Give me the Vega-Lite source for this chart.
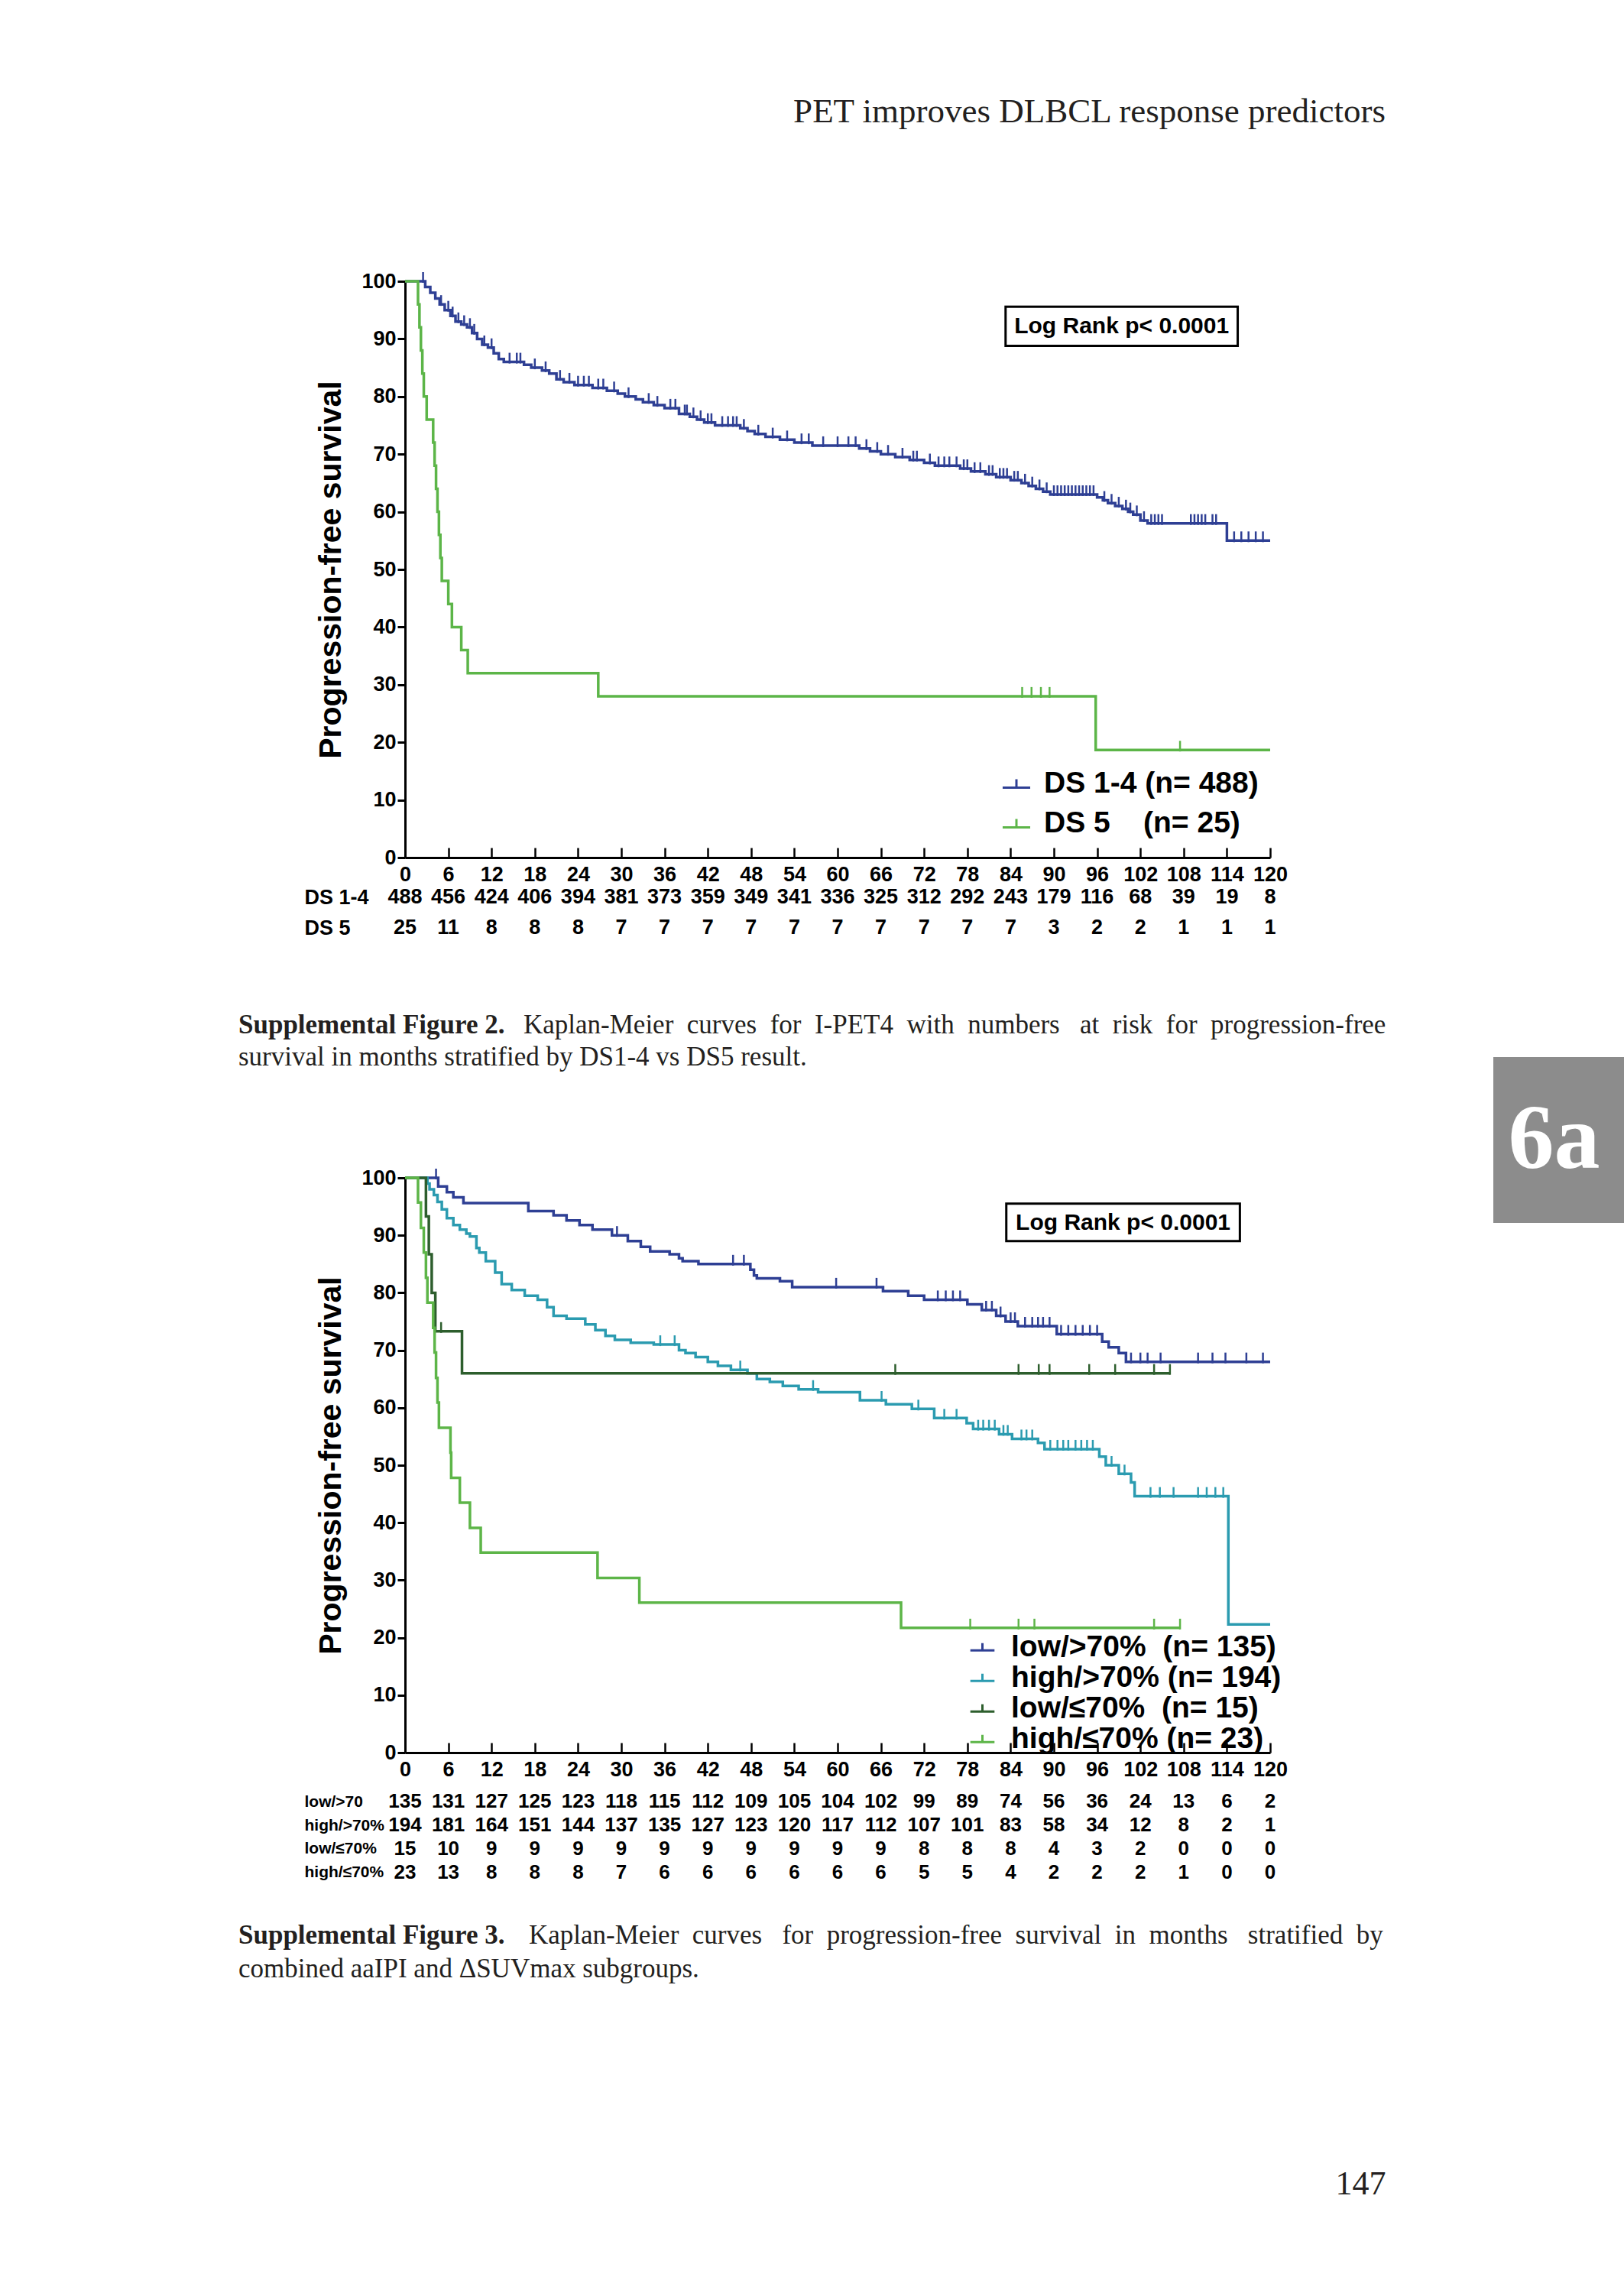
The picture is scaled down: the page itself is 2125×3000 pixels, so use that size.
{
 "$schema": "https://vega.github.io/schema/vega-lite/v6.json",
 "background": "white",
 "padding": {"left": 312, "top": 124, "right": 0, "bottom": 0},
 "config": {
  "view": {"stroke": null},
  "font": "Liberation Sans",
  "axis": {"grid": false, "labelFont": "Liberation Sans", "labelFontWeight": "bold", "labelColor": "black", "titleFont": "Liberation Sans", "titleColor": "black", "domainColor": "black", "tickColor": "black"},
  "legend": {"labelFont": "Liberation Sans", "labelFontWeight": "bold", "labelColor": "black", "labelLimit": 800, "padding": 0},
  "title": {"font": "Liberation Serif", "color": "#231f20", "subtitleFont": "Liberation Serif", "subtitleColor": "#231f20"}
 },
 "datasets": {
  "km1": [
   {"g":"DS 1-4","t":0,"s":100,"c":0},{"g":"DS 1-4","t":2.8,"s":99,"c":0},{"g":"DS 1-4","t":3.5,"s":98,"c":0},{"g":"DS 1-4","t":4.2,"s":97,"c":0},{"g":"DS 1-4","t":4.8,"s":96,"c":0},{"g":"DS 1-4","t":5.5,"s":95,"c":0},{"g":"DS 1-4","t":6.3,"s":94,"c":0},{"g":"DS 1-4","t":7,"s":93,"c":0},{"g":"DS 1-4","t":7.8,"s":92.5,"c":0},{"g":"DS 1-4","t":8.6,"s":92,"c":0},{"g":"DS 1-4","t":9.3,"s":91,"c":0},{"g":"DS 1-4","t":10,"s":90,"c":0},{"g":"DS 1-4","t":10.7,"s":89,"c":0},{"g":"DS 1-4","t":11.5,"s":88.5,"c":0},{"g":"DS 1-4","t":12.3,"s":87.5,"c":0},{"g":"DS 1-4","t":13,"s":86.5,"c":0},{"g":"DS 1-4","t":13.7,"s":86,"c":0},{"g":"DS 1-4","t":16.5,"s":85.5,"c":0},{"g":"DS 1-4","t":17.5,"s":85,"c":0},{"g":"DS 1-4","t":19,"s":84.5,"c":0},{"g":"DS 1-4","t":20,"s":84,"c":0},{"g":"DS 1-4","t":21,"s":83,"c":0},{"g":"DS 1-4","t":22,"s":82.5,"c":0},{"g":"DS 1-4","t":23.5,"s":82,"c":0},{"g":"DS 1-4","t":26,"s":81.5,"c":0},{"g":"DS 1-4","t":28,"s":81,"c":0},{"g":"DS 1-4","t":29.5,"s":80.5,"c":0},{"g":"DS 1-4","t":30.5,"s":80,"c":0},{"g":"DS 1-4","t":32,"s":79.5,"c":0},{"g":"DS 1-4","t":33,"s":79,"c":0},{"g":"DS 1-4","t":34.5,"s":78.5,"c":0},{"g":"DS 1-4","t":36,"s":78,"c":0},{"g":"DS 1-4","t":38,"s":77,"c":0},{"g":"DS 1-4","t":39.5,"s":76.5,"c":0},{"g":"DS 1-4","t":40.5,"s":76,"c":0},{"g":"DS 1-4","t":41.5,"s":75.5,"c":0},{"g":"DS 1-4","t":43,"s":75,"c":0},{"g":"DS 1-4","t":46.5,"s":74.5,"c":0},{"g":"DS 1-4","t":47.5,"s":74,"c":0},{"g":"DS 1-4","t":48.5,"s":73.5,"c":0},{"g":"DS 1-4","t":50,"s":73,"c":0},{"g":"DS 1-4","t":52,"s":72.5,"c":0},{"g":"DS 1-4","t":54,"s":72,"c":0},{"g":"DS 1-4","t":56.5,"s":71.5,"c":0},{"g":"DS 1-4","t":63,"s":71,"c":0},{"g":"DS 1-4","t":64.5,"s":70.5,"c":0},{"g":"DS 1-4","t":66,"s":70,"c":0},{"g":"DS 1-4","t":68,"s":69.5,"c":0},{"g":"DS 1-4","t":70,"s":69,"c":0},{"g":"DS 1-4","t":72,"s":68.5,"c":0},{"g":"DS 1-4","t":73.5,"s":68,"c":0},{"g":"DS 1-4","t":77,"s":67.5,"c":0},{"g":"DS 1-4","t":78.5,"s":67,"c":0},{"g":"DS 1-4","t":80.5,"s":66.5,"c":0},{"g":"DS 1-4","t":82,"s":66,"c":0},{"g":"DS 1-4","t":84,"s":65.5,"c":0},{"g":"DS 1-4","t":85.5,"s":65,"c":0},{"g":"DS 1-4","t":86.5,"s":64.5,"c":0},{"g":"DS 1-4","t":87.5,"s":64,"c":0},{"g":"DS 1-4","t":88.5,"s":63.5,"c":0},{"g":"DS 1-4","t":89.5,"s":63,"c":0},{"g":"DS 1-4","t":96,"s":62.5,"c":0},{"g":"DS 1-4","t":96.8,"s":62,"c":0},{"g":"DS 1-4","t":97.5,"s":61.5,"c":0},{"g":"DS 1-4","t":98.5,"s":61,"c":0},{"g":"DS 1-4","t":99.5,"s":60.5,"c":0},{"g":"DS 1-4","t":100.3,"s":60,"c":0},{"g":"DS 1-4","t":101,"s":59.5,"c":0},{"g":"DS 1-4","t":102,"s":58.5,"c":0},{"g":"DS 1-4","t":103,"s":58,"c":0},{"g":"DS 1-4","t":114,"s":55,"c":0},{"g":"DS 1-4","t":120,"s":55,"c":0},
   {"g":"DS 1-4","t":2.5,"s":100,"c":1},{"g":"DS 1-4","t":5,"s":96,"c":1},{"g":"DS 1-4","t":6,"s":95,"c":1},{"g":"DS 1-4","t":6.6,"s":94,"c":1},{"g":"DS 1-4","t":7.4,"s":93,"c":1},{"g":"DS 1-4","t":8.2,"s":92.5,"c":1},{"g":"DS 1-4","t":9,"s":92,"c":1},{"g":"DS 1-4","t":9.6,"s":91,"c":1},{"g":"DS 1-4","t":11,"s":89,"c":1},{"g":"DS 1-4","t":12,"s":88.5,"c":1},{"g":"DS 1-4","t":14.5,"s":86,"c":1},{"g":"DS 1-4","t":15.5,"s":86,"c":1},{"g":"DS 1-4","t":16,"s":86,"c":1},{"g":"DS 1-4","t":18,"s":85,"c":1},{"g":"DS 1-4","t":19.5,"s":84.5,"c":1},{"g":"DS 1-4","t":21.5,"s":83,"c":1},{"g":"DS 1-4","t":22.8,"s":82.5,"c":1},{"g":"DS 1-4","t":24,"s":82,"c":1},{"g":"DS 1-4","t":24.8,"s":82,"c":1},{"g":"DS 1-4","t":25.5,"s":82,"c":1},{"g":"DS 1-4","t":26.8,"s":81.5,"c":1},{"g":"DS 1-4","t":27.5,"s":81.5,"c":1},{"g":"DS 1-4","t":29,"s":81,"c":1},{"g":"DS 1-4","t":31,"s":80,"c":1},{"g":"DS 1-4","t":33.8,"s":79,"c":1},{"g":"DS 1-4","t":35,"s":78.5,"c":1},{"g":"DS 1-4","t":36.8,"s":78,"c":1},{"g":"DS 1-4","t":37.5,"s":78,"c":1},{"g":"DS 1-4","t":38.8,"s":77,"c":1},{"g":"DS 1-4","t":39.1,"s":77,"c":1},{"g":"DS 1-4","t":40,"s":76.5,"c":1},{"g":"DS 1-4","t":41,"s":76,"c":1},{"g":"DS 1-4","t":42,"s":75.5,"c":1},{"g":"DS 1-4","t":42.5,"s":75.5,"c":1},{"g":"DS 1-4","t":44,"s":75,"c":1},{"g":"DS 1-4","t":44.8,"s":75,"c":1},{"g":"DS 1-4","t":45.5,"s":75,"c":1},{"g":"DS 1-4","t":46,"s":75,"c":1},{"g":"DS 1-4","t":47,"s":74.5,"c":1},{"g":"DS 1-4","t":49,"s":73.5,"c":1},{"g":"DS 1-4","t":51,"s":73,"c":1},{"g":"DS 1-4","t":53,"s":72.5,"c":1},{"g":"DS 1-4","t":55,"s":72,"c":1},{"g":"DS 1-4","t":56,"s":72,"c":1},{"g":"DS 1-4","t":58,"s":71.5,"c":1},{"g":"DS 1-4","t":60,"s":71.5,"c":1},{"g":"DS 1-4","t":61.5,"s":71.5,"c":1},{"g":"DS 1-4","t":62.5,"s":71.5,"c":1},{"g":"DS 1-4","t":64,"s":71,"c":1},{"g":"DS 1-4","t":65.5,"s":70.5,"c":1},{"g":"DS 1-4","t":67,"s":70,"c":1},{"g":"DS 1-4","t":69,"s":69.5,"c":1},{"g":"DS 1-4","t":70.5,"s":69,"c":1},{"g":"DS 1-4","t":71,"s":69,"c":1},{"g":"DS 1-4","t":72.8,"s":68.5,"c":1},{"g":"DS 1-4","t":74,"s":68,"c":1},{"g":"DS 1-4","t":74.8,"s":68,"c":1},{"g":"DS 1-4","t":75.5,"s":68,"c":1},{"g":"DS 1-4","t":76.5,"s":68,"c":1},{"g":"DS 1-4","t":77.5,"s":67.5,"c":1},{"g":"DS 1-4","t":78,"s":67.5,"c":1},{"g":"DS 1-4","t":79,"s":67,"c":1},{"g":"DS 1-4","t":79.8,"s":67,"c":1},{"g":"DS 1-4","t":81,"s":66.5,"c":1},{"g":"DS 1-4","t":81.5,"s":66.5,"c":1},{"g":"DS 1-4","t":82.5,"s":66,"c":1},{"g":"DS 1-4","t":83,"s":66,"c":1},{"g":"DS 1-4","t":83.5,"s":66,"c":1},{"g":"DS 1-4","t":84.5,"s":65.5,"c":1},{"g":"DS 1-4","t":85,"s":65.5,"c":1},{"g":"DS 1-4","t":86,"s":65,"c":1},{"g":"DS 1-4","t":87,"s":64.5,"c":1},{"g":"DS 1-4","t":88,"s":64,"c":1},{"g":"DS 1-4","t":89,"s":63.5,"c":1},{"g":"DS 1-4","t":90,"s":63,"c":1},{"g":"DS 1-4","t":90.5,"s":63,"c":1},{"g":"DS 1-4","t":91,"s":63,"c":1},{"g":"DS 1-4","t":91.5,"s":63,"c":1},{"g":"DS 1-4","t":92,"s":63,"c":1},{"g":"DS 1-4","t":92.5,"s":63,"c":1},{"g":"DS 1-4","t":93,"s":63,"c":1},{"g":"DS 1-4","t":93.5,"s":63,"c":1},{"g":"DS 1-4","t":94,"s":63,"c":1},{"g":"DS 1-4","t":94.5,"s":63,"c":1},{"g":"DS 1-4","t":95,"s":63,"c":1},{"g":"DS 1-4","t":95.5,"s":63,"c":1},{"g":"DS 1-4","t":97,"s":62,"c":1},{"g":"DS 1-4","t":98,"s":61.5,"c":1},{"g":"DS 1-4","t":99,"s":61,"c":1},{"g":"DS 1-4","t":100,"s":60.5,"c":1},{"g":"DS 1-4","t":100.6,"s":60,"c":1},{"g":"DS 1-4","t":101.5,"s":59.5,"c":1},{"g":"DS 1-4","t":102.5,"s":58.5,"c":1},{"g":"DS 1-4","t":103.5,"s":58,"c":1},{"g":"DS 1-4","t":104,"s":58,"c":1},{"g":"DS 1-4","t":104.5,"s":58,"c":1},{"g":"DS 1-4","t":105,"s":58,"c":1},{"g":"DS 1-4","t":109,"s":58,"c":1},{"g":"DS 1-4","t":109.5,"s":58,"c":1},{"g":"DS 1-4","t":110,"s":58,"c":1},{"g":"DS 1-4","t":110.5,"s":58,"c":1},{"g":"DS 1-4","t":111,"s":58,"c":1},{"g":"DS 1-4","t":112,"s":58,"c":1},{"g":"DS 1-4","t":112.5,"s":58,"c":1},{"g":"DS 1-4","t":115,"s":55,"c":1},{"g":"DS 1-4","t":116,"s":55,"c":1},{"g":"DS 1-4","t":117,"s":55,"c":1},{"g":"DS 1-4","t":118,"s":55,"c":1},{"g":"DS 1-4","t":119,"s":55,"c":1},
   {"g":"DS 5","t":0,"s":100,"c":0},{"g":"DS 5","t":1.8,"s":96,"c":0},{"g":"DS 5","t":2,"s":92,"c":0},{"g":"DS 5","t":2.2,"s":88,"c":0},{"g":"DS 5","t":2.4,"s":84,"c":0},{"g":"DS 5","t":2.6,"s":80,"c":0},{"g":"DS 5","t":3,"s":76,"c":0},{"g":"DS 5","t":3.9,"s":72,"c":0},{"g":"DS 5","t":4.1,"s":68,"c":0},{"g":"DS 5","t":4.3,"s":64,"c":0},{"g":"DS 5","t":4.5,"s":60,"c":0},{"g":"DS 5","t":4.7,"s":56,"c":0},{"g":"DS 5","t":4.9,"s":52,"c":0},{"g":"DS 5","t":5.1,"s":48,"c":0},{"g":"DS 5","t":6,"s":44,"c":0},{"g":"DS 5","t":6.5,"s":40,"c":0},{"g":"DS 5","t":7.8,"s":36,"c":0},{"g":"DS 5","t":8.7,"s":32,"c":0},{"g":"DS 5","t":26.8,"s":28,"c":0},{"g":"DS 5","t":95.8,"s":18.67,"c":0},{"g":"DS 5","t":120,"s":18.67,"c":0},
   {"g":"DS 5","t":85.6,"s":28,"c":1},{"g":"DS 5","t":86.9,"s":28,"c":1},{"g":"DS 5","t":88.2,"s":28,"c":1},{"g":"DS 5","t":89.4,"s":28,"c":1},{"g":"DS 5","t":107.5,"s":18.67,"c":1}
  ],
  "km2": [
   {"g":"low/>70%","t":0,"s":100,"c":0},{"g":"low/>70%","t":4.6,"s":98.5,"c":0},{"g":"low/>70%","t":5.8,"s":97.5,"c":0},{"g":"low/>70%","t":6.7,"s":96.6,"c":0},{"g":"low/>70%","t":8.1,"s":95.6,"c":0},{"g":"low/>70%","t":17.1,"s":94.2,"c":0},{"g":"low/>70%","t":20.6,"s":93.5,"c":0},{"g":"low/>70%","t":22.4,"s":92.6,"c":0},{"g":"low/>70%","t":24.2,"s":91.8,"c":0},{"g":"low/>70%","t":26,"s":91,"c":0},{"g":"low/>70%","t":28.7,"s":90,"c":0},{"g":"low/>70%","t":30.9,"s":89,"c":0},{"g":"low/>70%","t":32.7,"s":88,"c":0},{"g":"low/>70%","t":34,"s":87.2,"c":0},{"g":"low/>70%","t":36.7,"s":86.7,"c":0},{"g":"low/>70%","t":38,"s":86,"c":0},{"g":"low/>70%","t":38.5,"s":85.5,"c":0},{"g":"low/>70%","t":40.7,"s":85,"c":0},{"g":"low/>70%","t":47.9,"s":84,"c":0},{"g":"low/>70%","t":48.4,"s":83,"c":0},{"g":"low/>70%","t":48.8,"s":82.5,"c":0},{"g":"low/>70%","t":52,"s":82,"c":0},{"g":"low/>70%","t":53.7,"s":81,"c":0},{"g":"low/>70%","t":66.3,"s":80.3,"c":0},{"g":"low/>70%","t":69.8,"s":79.5,"c":0},{"g":"low/>70%","t":72,"s":78.8,"c":0},{"g":"low/>70%","t":78,"s":78,"c":0},{"g":"low/>70%","t":80,"s":77,"c":0},{"g":"low/>70%","t":82,"s":76,"c":0},{"g":"low/>70%","t":83.3,"s":75,"c":0},{"g":"low/>70%","t":85,"s":74.2,"c":0},{"g":"low/>70%","t":90.4,"s":72.8,"c":0},{"g":"low/>70%","t":96.7,"s":71.5,"c":0},{"g":"low/>70%","t":97.6,"s":70.5,"c":0},{"g":"low/>70%","t":99,"s":69.5,"c":0},{"g":"low/>70%","t":100,"s":68,"c":0},{"g":"low/>70%","t":120,"s":68,"c":0},
   {"g":"low/>70%","t":4.3,"s":100,"c":1},{"g":"low/>70%","t":29.4,"s":90,"c":1},{"g":"low/>70%","t":45.5,"s":85,"c":1},{"g":"low/>70%","t":47,"s":85,"c":1},{"g":"low/>70%","t":59.8,"s":81,"c":1},{"g":"low/>70%","t":65.4,"s":81,"c":1},{"g":"low/>70%","t":73.9,"s":78.8,"c":1},{"g":"low/>70%","t":75,"s":78.8,"c":1},{"g":"low/>70%","t":76,"s":78.8,"c":1},{"g":"low/>70%","t":77,"s":78.8,"c":1},{"g":"low/>70%","t":80.6,"s":77,"c":1},{"g":"low/>70%","t":81.4,"s":77,"c":1},{"g":"low/>70%","t":82.6,"s":76,"c":1},{"g":"low/>70%","t":84,"s":75,"c":1},{"g":"low/>70%","t":84.6,"s":75,"c":1},{"g":"low/>70%","t":86,"s":74.2,"c":1},{"g":"low/>70%","t":87,"s":74.2,"c":1},{"g":"low/>70%","t":87.8,"s":74.2,"c":1},{"g":"low/>70%","t":88.5,"s":74.2,"c":1},{"g":"low/>70%","t":89.4,"s":74.2,"c":1},{"g":"low/>70%","t":91,"s":72.8,"c":1},{"g":"low/>70%","t":92,"s":72.8,"c":1},{"g":"low/>70%","t":93,"s":72.8,"c":1},{"g":"low/>70%","t":94,"s":72.8,"c":1},{"g":"low/>70%","t":95,"s":72.8,"c":1},{"g":"low/>70%","t":96,"s":72.8,"c":1},{"g":"low/>70%","t":100.7,"s":68,"c":1},{"g":"low/>70%","t":102,"s":68,"c":1},{"g":"low/>70%","t":103,"s":68,"c":1},{"g":"low/>70%","t":104.8,"s":68,"c":1},{"g":"low/>70%","t":110,"s":68,"c":1},{"g":"low/>70%","t":112,"s":68,"c":1},{"g":"low/>70%","t":113.8,"s":68,"c":1},{"g":"low/>70%","t":116.7,"s":68,"c":1},{"g":"low/>70%","t":119,"s":68,"c":1},
   {"g":"high/>70%","t":0,"s":100,"c":0},{"g":"high/>70%","t":3.1,"s":99,"c":0},{"g":"high/>70%","t":3.4,"s":98,"c":0},{"g":"high/>70%","t":4,"s":97,"c":0},{"g":"high/>70%","t":4.5,"s":95.8,"c":0},{"g":"high/>70%","t":5.1,"s":94.5,"c":0},{"g":"high/>70%","t":5.8,"s":93,"c":0},{"g":"high/>70%","t":6.7,"s":91.8,"c":0},{"g":"high/>70%","t":7.6,"s":91,"c":0},{"g":"high/>70%","t":8.5,"s":90.3,"c":0},{"g":"high/>70%","t":9,"s":89.8,"c":0},{"g":"high/>70%","t":9.9,"s":87.8,"c":0},{"g":"high/>70%","t":10.3,"s":87,"c":0},{"g":"high/>70%","t":11.2,"s":85.5,"c":0},{"g":"high/>70%","t":12.5,"s":83.5,"c":0},{"g":"high/>70%","t":13.4,"s":81.5,"c":0},{"g":"high/>70%","t":14.8,"s":80.5,"c":0},{"g":"high/>70%","t":16.6,"s":79.5,"c":0},{"g":"high/>70%","t":18.4,"s":78.8,"c":0},{"g":"high/>70%","t":19.7,"s":77.5,"c":0},{"g":"high/>70%","t":20.6,"s":76,"c":0},{"g":"high/>70%","t":22.4,"s":75.5,"c":0},{"g":"high/>70%","t":25,"s":74.5,"c":0},{"g":"high/>70%","t":26.4,"s":73.5,"c":0},{"g":"high/>70%","t":27.8,"s":72.5,"c":0},{"g":"high/>70%","t":29.1,"s":71.8,"c":0},{"g":"high/>70%","t":31.3,"s":71.3,"c":0},{"g":"high/>70%","t":34.5,"s":71,"c":0},{"g":"high/>70%","t":38,"s":70,"c":0},{"g":"high/>70%","t":38.9,"s":69.5,"c":0},{"g":"high/>70%","t":40.3,"s":68.8,"c":0},{"g":"high/>70%","t":42,"s":68,"c":0},{"g":"high/>70%","t":43.4,"s":67.3,"c":0},{"g":"high/>70%","t":45.2,"s":66.6,"c":0},{"g":"high/>70%","t":47.5,"s":66,"c":0},{"g":"high/>70%","t":48.8,"s":65,"c":0},{"g":"high/>70%","t":50.6,"s":64.5,"c":0},{"g":"high/>70%","t":52.4,"s":63.8,"c":0},{"g":"high/>70%","t":54.6,"s":63.2,"c":0},{"g":"high/>70%","t":57.3,"s":62.7,"c":0},{"g":"high/>70%","t":63.1,"s":61.3,"c":0},{"g":"high/>70%","t":66.7,"s":60.6,"c":0},{"g":"high/>70%","t":70.3,"s":59.8,"c":0},{"g":"high/>70%","t":73.4,"s":58.2,"c":0},{"g":"high/>70%","t":77.9,"s":57.3,"c":0},{"g":"high/>70%","t":78.8,"s":56.3,"c":0},{"g":"high/>70%","t":82.4,"s":55.4,"c":0},{"g":"high/>70%","t":84.2,"s":54.6,"c":0},{"g":"high/>70%","t":87.8,"s":53.9,"c":0},{"g":"high/>70%","t":88.7,"s":52.8,"c":0},{"g":"high/>70%","t":96.3,"s":51.5,"c":0},{"g":"high/>70%","t":97.2,"s":50,"c":0},{"g":"high/>70%","t":99,"s":48.5,"c":0},{"g":"high/>70%","t":100.7,"s":47,"c":0},{"g":"high/>70%","t":101.2,"s":44.6,"c":0},{"g":"high/>70%","t":114.2,"s":22.3,"c":0},{"g":"high/>70%","t":120,"s":22.3,"c":0},
   {"g":"high/>70%","t":35.4,"s":71,"c":1},{"g":"high/>70%","t":37.4,"s":71,"c":1},{"g":"high/>70%","t":46.5,"s":66.6,"c":1},{"g":"high/>70%","t":56.6,"s":63.2,"c":1},{"g":"high/>70%","t":66.1,"s":61.3,"c":1},{"g":"high/>70%","t":71.2,"s":59.8,"c":1},{"g":"high/>70%","t":74.8,"s":58.2,"c":1},{"g":"high/>70%","t":76.5,"s":58.2,"c":1},{"g":"high/>70%","t":79.5,"s":56.3,"c":1},{"g":"high/>70%","t":80.2,"s":56.3,"c":1},{"g":"high/>70%","t":81,"s":56.3,"c":1},{"g":"high/>70%","t":81.8,"s":56.3,"c":1},{"g":"high/>70%","t":83,"s":55.4,"c":1},{"g":"high/>70%","t":83.6,"s":55.4,"c":1},{"g":"high/>70%","t":85.5,"s":54.6,"c":1},{"g":"high/>70%","t":86.2,"s":54.6,"c":1},{"g":"high/>70%","t":87,"s":54.6,"c":1},{"g":"high/>70%","t":89.5,"s":52.8,"c":1},{"g":"high/>70%","t":90.5,"s":52.8,"c":1},{"g":"high/>70%","t":91.3,"s":52.8,"c":1},{"g":"high/>70%","t":92,"s":52.8,"c":1},{"g":"high/>70%","t":93,"s":52.8,"c":1},{"g":"high/>70%","t":93.8,"s":52.8,"c":1},{"g":"high/>70%","t":94.6,"s":52.8,"c":1},{"g":"high/>70%","t":95.4,"s":52.8,"c":1},{"g":"high/>70%","t":98,"s":50,"c":1},{"g":"high/>70%","t":99.8,"s":48.5,"c":1},{"g":"high/>70%","t":103.4,"s":44.6,"c":1},{"g":"high/>70%","t":104.7,"s":44.6,"c":1},{"g":"high/>70%","t":106.6,"s":44.6,"c":1},{"g":"high/>70%","t":110,"s":44.6,"c":1},{"g":"high/>70%","t":111.2,"s":44.6,"c":1},{"g":"high/>70%","t":112.4,"s":44.6,"c":1},{"g":"high/>70%","t":113.5,"s":44.6,"c":1},
   {"g":"low/≤70%","t":0,"s":100,"c":0},{"g":"low/≤70%","t":2.9,"s":93.3,"c":0},{"g":"low/≤70%","t":3.3,"s":86.7,"c":0},{"g":"low/≤70%","t":3.7,"s":80,"c":0},{"g":"low/≤70%","t":4.2,"s":73.3,"c":0},{"g":"low/≤70%","t":7.9,"s":66,"c":0},
   {"g":"low/≤70%","t":5,"s":73.3,"c":1},{"g":"low/≤70%","t":68,"s":66,"c":1},{"g":"low/≤70%","t":85.1,"s":66,"c":1},{"g":"low/≤70%","t":87.9,"s":66,"c":1},{"g":"low/≤70%","t":89.4,"s":66,"c":1},{"g":"low/≤70%","t":94.9,"s":66,"c":1},{"g":"low/≤70%","t":98.5,"s":66,"c":1},{"g":"low/≤70%","t":103.9,"s":66,"c":1},{"g":"low/≤70%","t":106.1,"s":66,"c":1},
   {"g":"high/≤70%","t":0,"s":100,"c":0},{"g":"high/≤70%","t":1.8,"s":95.7,"c":0},{"g":"high/≤70%","t":2.2,"s":91.3,"c":0},{"g":"high/≤70%","t":2.6,"s":87,"c":0},{"g":"high/≤70%","t":2.9,"s":82.6,"c":0},{"g":"high/≤70%","t":3.1,"s":78.3,"c":0},{"g":"high/≤70%","t":3.9,"s":73.9,"c":0},{"g":"high/≤70%","t":4.1,"s":69.6,"c":0},{"g":"high/≤70%","t":4.3,"s":65.2,"c":0},{"g":"high/≤70%","t":4.5,"s":60.9,"c":0},{"g":"high/≤70%","t":4.7,"s":56.5,"c":0},{"g":"high/≤70%","t":6.3,"s":52.2,"c":0},{"g":"high/≤70%","t":6.4,"s":47.8,"c":0},{"g":"high/≤70%","t":7.6,"s":43.5,"c":0},{"g":"high/≤70%","t":9,"s":39.1,"c":0},{"g":"high/≤70%","t":10.5,"s":34.8,"c":0},{"g":"high/≤70%","t":26.7,"s":30.4,"c":0},{"g":"high/≤70%","t":32.5,"s":26.1,"c":0},{"g":"high/≤70%","t":68.8,"s":21.7,"c":0},
   {"g":"high/≤70%","t":78.4,"s":21.7,"c":1},{"g":"high/≤70%","t":85.1,"s":21.7,"c":1},{"g":"high/≤70%","t":87.3,"s":21.7,"c":1},{"g":"high/≤70%","t":103.9,"s":21.7,"c":1},{"g":"high/≤70%","t":107.5,"s":21.7,"c":1}
  ],
  "risk1": [
   {"row":"DS 1-4","t":0,"n":488},{"row":"DS 1-4","t":6,"n":456},{"row":"DS 1-4","t":12,"n":424},{"row":"DS 1-4","t":18,"n":406},{"row":"DS 1-4","t":24,"n":394},{"row":"DS 1-4","t":30,"n":381},{"row":"DS 1-4","t":36,"n":373},{"row":"DS 1-4","t":42,"n":359},{"row":"DS 1-4","t":48,"n":349},{"row":"DS 1-4","t":54,"n":341},{"row":"DS 1-4","t":60,"n":336},{"row":"DS 1-4","t":66,"n":325},{"row":"DS 1-4","t":72,"n":312},{"row":"DS 1-4","t":78,"n":292},{"row":"DS 1-4","t":84,"n":243},{"row":"DS 1-4","t":90,"n":179},{"row":"DS 1-4","t":96,"n":116},{"row":"DS 1-4","t":102,"n":68},{"row":"DS 1-4","t":108,"n":39},{"row":"DS 1-4","t":114,"n":19},{"row":"DS 1-4","t":120,"n":8},
   {"row":"DS 5","t":0,"n":25},{"row":"DS 5","t":6,"n":11},{"row":"DS 5","t":12,"n":8},{"row":"DS 5","t":18,"n":8},{"row":"DS 5","t":24,"n":8},{"row":"DS 5","t":30,"n":7},{"row":"DS 5","t":36,"n":7},{"row":"DS 5","t":42,"n":7},{"row":"DS 5","t":48,"n":7},{"row":"DS 5","t":54,"n":7},{"row":"DS 5","t":60,"n":7},{"row":"DS 5","t":66,"n":7},{"row":"DS 5","t":72,"n":7},{"row":"DS 5","t":78,"n":7},{"row":"DS 5","t":84,"n":7},{"row":"DS 5","t":90,"n":3},{"row":"DS 5","t":96,"n":2},{"row":"DS 5","t":102,"n":2},{"row":"DS 5","t":108,"n":1},{"row":"DS 5","t":114,"n":1},{"row":"DS 5","t":120,"n":1}
  ],
  "risk2": [
   {"row":"low/>70","t":0,"n":135},{"row":"low/>70","t":6,"n":131},{"row":"low/>70","t":12,"n":127},{"row":"low/>70","t":18,"n":125},{"row":"low/>70","t":24,"n":123},{"row":"low/>70","t":30,"n":118},{"row":"low/>70","t":36,"n":115},{"row":"low/>70","t":42,"n":112},{"row":"low/>70","t":48,"n":109},{"row":"low/>70","t":54,"n":105},{"row":"low/>70","t":60,"n":104},{"row":"low/>70","t":66,"n":102},{"row":"low/>70","t":72,"n":99},{"row":"low/>70","t":78,"n":89},{"row":"low/>70","t":84,"n":74},{"row":"low/>70","t":90,"n":56},{"row":"low/>70","t":96,"n":36},{"row":"low/>70","t":102,"n":24},{"row":"low/>70","t":108,"n":13},{"row":"low/>70","t":114,"n":6},{"row":"low/>70","t":120,"n":2},
   {"row":"high/>70%","t":0,"n":194},{"row":"high/>70%","t":6,"n":181},{"row":"high/>70%","t":12,"n":164},{"row":"high/>70%","t":18,"n":151},{"row":"high/>70%","t":24,"n":144},{"row":"high/>70%","t":30,"n":137},{"row":"high/>70%","t":36,"n":135},{"row":"high/>70%","t":42,"n":127},{"row":"high/>70%","t":48,"n":123},{"row":"high/>70%","t":54,"n":120},{"row":"high/>70%","t":60,"n":117},{"row":"high/>70%","t":66,"n":112},{"row":"high/>70%","t":72,"n":107},{"row":"high/>70%","t":78,"n":101},{"row":"high/>70%","t":84,"n":83},{"row":"high/>70%","t":90,"n":58},{"row":"high/>70%","t":96,"n":34},{"row":"high/>70%","t":102,"n":12},{"row":"high/>70%","t":108,"n":8},{"row":"high/>70%","t":114,"n":2},{"row":"high/>70%","t":120,"n":1},
   {"row":"low/≤70%","t":0,"n":15},{"row":"low/≤70%","t":6,"n":10},{"row":"low/≤70%","t":12,"n":9},{"row":"low/≤70%","t":18,"n":9},{"row":"low/≤70%","t":24,"n":9},{"row":"low/≤70%","t":30,"n":9},{"row":"low/≤70%","t":36,"n":9},{"row":"low/≤70%","t":42,"n":9},{"row":"low/≤70%","t":48,"n":9},{"row":"low/≤70%","t":54,"n":9},{"row":"low/≤70%","t":60,"n":9},{"row":"low/≤70%","t":66,"n":9},{"row":"low/≤70%","t":72,"n":8},{"row":"low/≤70%","t":78,"n":8},{"row":"low/≤70%","t":84,"n":8},{"row":"low/≤70%","t":90,"n":4},{"row":"low/≤70%","t":96,"n":3},{"row":"low/≤70%","t":102,"n":2},{"row":"low/≤70%","t":108,"n":0},{"row":"low/≤70%","t":114,"n":0},{"row":"low/≤70%","t":120,"n":0},
   {"row":"high/≤70%","t":0,"n":23},{"row":"high/≤70%","t":6,"n":13},{"row":"high/≤70%","t":12,"n":8},{"row":"high/≤70%","t":18,"n":8},{"row":"high/≤70%","t":24,"n":8},{"row":"high/≤70%","t":30,"n":7},{"row":"high/≤70%","t":36,"n":6},{"row":"high/≤70%","t":42,"n":6},{"row":"high/≤70%","t":48,"n":6},{"row":"high/≤70%","t":54,"n":6},{"row":"high/≤70%","t":60,"n":6},{"row":"high/≤70%","t":66,"n":6},{"row":"high/≤70%","t":72,"n":5},{"row":"high/≤70%","t":78,"n":5},{"row":"high/≤70%","t":84,"n":4},{"row":"high/≤70%","t":90,"n":2},{"row":"high/≤70%","t":96,"n":2},{"row":"high/≤70%","t":102,"n":2},{"row":"high/≤70%","t":108,"n":1},{"row":"high/≤70%","t":114,"n":0},{"row":"high/≤70%","t":120,"n":0}
  ],
  "tab": [{"label": "6a"}]
 },
 "spacing": 140,
 "resolve": {"scale": {"color": "independent", "x": "independent", "y": "independent"}, "legend": {"color": "independent"}},
 "hconcat": [
  {
   "title": {"text": "147", "orient": "bottom", "anchor": "end", "frame": "bounds", "fontSize": 44, "fontWeight": "normal", "offset": 242},
   "spacing": 126,
   "resolve": {"scale": {"color": "independent", "x": "independent", "y": "independent"}, "legend": {"color": "independent"}},
   "vconcat": [
    {
     "title": {"text": "survival in months stratified by DS1-4 vs DS5 result.", "orient": "bottom", "anchor": "start", "frame": "group", "dx": -218, "offset": 7, "fontSize": 35, "fontWeight": "normal"},
     "resolve": {"scale": {"color": "independent", "x": "independent", "y": "independent"}, "legend": {"color": "independent"}},
     "vconcat": [
      {
       "title": {"text": "Kaplan-Meier\u00a0 curves\u00a0 for\u00a0 I-PET4\u00a0 with\u00a0 numbers\u00a0\u00a0 at\u00a0 risk\u00a0 for\u00a0 progression-free", "orient": "bottom", "anchor": "start", "frame": "group", "dx": 155, "offset": -35, "fontSize": 35, "fontWeight": "normal"},
       "spacing": 0,
       "resolve": {"scale": {"color": "independent", "x": "independent", "y": "independent"}, "legend": {"color": "independent"}},
       "vconcat": [
        {
         "width": 1132, "height": 754,
         "title": {"text": "PET improves DLBCL response predictors", "orient": "top", "anchor": "end", "frame": "group", "dx": 151, "offset": 185, "fontSize": 45, "fontWeight": "normal"},
         "data": {"name": "km1"},
         "layer": [
          {"data": {"values": [{}]}, "mark": {"type": "rect", "fill": "white", "stroke": "black", "strokeWidth": 3}, "encoding": {"x": {"datum": 83.3, "type": "quantitative"}, "x2": {"datum": 115.5}, "y": {"datum": 95.6, "type": "quantitative"}, "y2": {"datum": 88.8}}},
          {"data": {"values": [{}]}, "mark": {"type": "text", "text": "Log Rank p< 0.0001", "fontSize": 30, "fontWeight": "bold", "font": "Liberation Sans", "color": "black"}, "encoding": {"x": {"datum": 99.4, "type": "quantitative"}, "y": {"datum": 92.2, "type": "quantitative"}}},
          {"mark": {"type": "line", "interpolate": "step-after", "strokeWidth": 3.5},
           "encoding": {
            "x": {"field": "t", "type": "quantitative", "scale": {"domain": [0, 120], "nice": false},
                  "axis": {"title": null, "values": [0,3,6,9,12,15,18,21,24,27,30,33,36,39,42,45,48,51,54,57,60,63,66,69,72,75,78,81,84,87,90,93,96,99,102,105,108,111,114,117,120], "labelExpr": "datum.value % 6 === 0 ? datum.label : ''", "labelFlush": false, "labelOverlap": false, "labelFontSize": 27, "labelPadding": 22, "domainWidth": 3, "tickWidth": 2.5, "tickSize": {"condition": {"test": "datum.value % 6 === 0", "value": -13}, "value": -8}}},
            "y": {"field": "s", "type": "quantitative", "scale": {"domain": [0, 100], "nice": false},
                  "axis": {"title": "Progression-free survival", "values": [0,10,20,30,40,50,60,70,80,90,100], "labelFontSize": 27, "labelPadding": 2, "tickSize": 10, "tickWidth": 3, "domainWidth": 3, "titleFontSize": 41, "titleFontWeight": "bold", "titlePadding": 18}},
            "color": {"field": "g", "type": "nominal", "scale": {"domain": ["DS 1-4", "DS 5"], "range": ["#2e3f94", "#5cb548"]},
                      "legend": {"orient": "none", "legendX": 780, "legendY": 637, "title": null, "labelFontSize": 39, "symbolType": "M-1,0.3H1M0,0.3V-0.3", "symbolSize": 1300, "symbolStrokeWidth": 3, "symbolFillColor": "transparent", "labelOffset": 16, "rowPadding": 12, "labelExpr": "datum.label == 'DS 1-4' ? 'DS 1-4 (n= 488)' : 'DS 5\u00a0\u00a0\u00a0\u00a0(n= 25)'"}}
           }},
          {"transform": [{"filter": "datum.c == 1"}], "mark": {"type": "tick", "orient": "vertical", "size": 14, "thickness": 2.5, "yOffset": -5, "opacity": 1},
           "encoding": {"x": {"field": "t", "type": "quantitative"}, "y": {"field": "s", "type": "quantitative"}, "color": {"field": "g", "type": "nominal"}}}
         ]
        },
        {
         "width": 1132, "height": 74,
         "data": {"name": "risk1"},
         "title": {"text": "Supplemental Figure 2.", "orient": "bottom", "anchor": "start", "frame": "group", "dx": -218, "offset": 93, "fontSize": 35, "fontWeight": "bold"},
         "mark": {"type": "text", "fontSize": 27, "fontWeight": "bold", "font": "Liberation Sans", "color": "black"},
         "encoding": {
          "x": {"field": "t", "type": "quantitative", "scale": {"domain": [0, 120], "nice": false}, "axis": null},
          "y": {"field": "row", "type": "nominal", "sort": ["DS 1-4", "DS 5"], "scale": {"padding": 0.425}, "axis": {"title": null, "domain": false, "ticks": false, "labelAlign": "left", "labelPadding": 132, "labelFontSize": 27}},
          "text": {"field": "n", "type": "nominal"}
         }
        }
       ]
      }
     ]
    },
    {
     "title": {"text": "combined aaIPI and ΔSUVmax subgroups.", "orient": "bottom", "anchor": "start", "frame": "group", "dx": -218, "offset": 9, "fontSize": 35, "fontWeight": "normal"},
     "resolve": {"scale": {"color": "independent", "x": "independent", "y": "independent"}, "legend": {"color": "independent"}},
     "vconcat": [
      {
       "title": {"text": "Kaplan-Meier\u00a0 curves\u00a0\u00a0 for\u00a0 progression-free\u00a0 survival\u00a0 in\u00a0 months\u00a0\u00a0 stratified\u00a0 by", "orient": "bottom", "anchor": "start", "frame": "group", "dx": 162, "offset": -35, "fontSize": 35, "fontWeight": "normal"},
       "spacing": 14,
       "resolve": {"scale": {"color": "independent", "x": "independent", "y": "independent"}, "legend": {"color": "independent"}},
       "vconcat": [
        {
         "width": 1132, "height": 752,
         "data": {"name": "km2"},
         "layer": [
          {"data": {"values": [{}]}, "mark": {"type": "rect", "fill": "white", "stroke": "black", "strokeWidth": 3}, "encoding": {"x": {"datum": 83.4, "type": "quantitative"}, "x2": {"datum": 115.8}, "y": {"datum": 95.5, "type": "quantitative"}, "y2": {"datum": 89.0}}},
          {"data": {"values": [{}]}, "mark": {"type": "text", "text": "Log Rank p< 0.0001", "fontSize": 30, "fontWeight": "bold", "font": "Liberation Sans", "color": "black"}, "encoding": {"x": {"datum": 99.6, "type": "quantitative"}, "y": {"datum": 92.2, "type": "quantitative"}}},
          {"mark": {"type": "line", "interpolate": "step-after", "strokeWidth": 3.5},
           "encoding": {
            "x": {"field": "t", "type": "quantitative", "scale": {"domain": [0, 120], "nice": false},
                  "axis": {"title": null, "values": [0,3,6,9,12,15,18,21,24,27,30,33,36,39,42,45,48,51,54,57,60,63,66,69,72,75,78,81,84,87,90,93,96,99,102,105,108,111,114,117,120], "labelExpr": "datum.value % 6 === 0 ? datum.label : ''", "labelFlush": false, "labelOverlap": false, "labelFontSize": 27, "labelPadding": 22, "domainWidth": 3, "tickWidth": 2.5, "tickSize": {"condition": {"test": "datum.value % 6 === 0", "value": -13}, "value": -8}}},
            "y": {"field": "s", "type": "quantitative", "scale": {"domain": [0, 100], "nice": false},
                  "axis": {"title": "Progression-free survival", "values": [0,10,20,30,40,50,60,70,80,90,100], "labelFontSize": 27, "labelPadding": 2, "tickSize": 10, "tickWidth": 3, "domainWidth": 3, "titleFontSize": 41, "titleFontWeight": "bold", "titlePadding": 18}},
            "color": {"field": "g", "type": "nominal", "scale": {"domain": ["low/>70%", "high/>70%", "low/≤70%", "high/≤70%"], "range": ["#2e3f94", "#2b9bb0", "#2d5e2d", "#5db548"]},
                      "legend": {"orient": "none", "legendX": 736, "legendY": 594, "title": null, "labelFontSize": 39, "symbolType": "M-1,0.3H1M0,0.3V-0.3", "symbolSize": 1000, "symbolStrokeWidth": 3, "symbolFillColor": "transparent", "labelOffset": 18, "rowPadding": 0, "labelExpr": "{'low/>70%': 'low/>70% \u00a0(n= 135)', 'high/>70%': 'high/>70% (n= 194)', 'low/≤70%': 'low/≤70% \u00a0(n= 15)', 'high/≤70%': 'high/≤70% (n= 23)'}[datum.label]"}}
           }},
          {"transform": [{"filter": "datum.c == 1"}], "mark": {"type": "tick", "orient": "vertical", "size": 14, "thickness": 2.5, "yOffset": -5, "opacity": 1},
           "encoding": {"x": {"field": "t", "type": "quantitative"}, "y": {"field": "s", "type": "quantitative"}, "color": {"field": "g", "type": "nominal"}}}
         ]
        },
        {
         "width": 1132, "height": 123,
         "data": {"name": "risk2"},
         "title": {"text": "Supplemental Figure 3.", "orient": "bottom", "anchor": "start", "frame": "group", "dx": -218, "offset": 50, "fontSize": 35, "fontWeight": "bold"},
         "mark": {"type": "text", "fontSize": 26, "fontWeight": "bold", "font": "Liberation Sans", "color": "black"},
         "encoding": {
          "x": {"field": "t", "type": "quantitative", "scale": {"domain": [0, 120], "nice": false}, "axis": null},
          "y": {"field": "row", "type": "nominal", "sort": ["low/>70", "high/>70%", "low/≤70%", "high/≤70%"], "scale": {"padding": 0.5}, "axis": {"title": null, "domain": false, "ticks": false, "labelAlign": "left", "labelPadding": 132, "labelFontSize": 21}},
          "text": {"field": "n", "type": "nominal"}
         }
        }
       ]
      }
     ]
    }
   ]
  },
  {
   "spacing": 0,
   "vconcat": [
    {"width": 175, "height": 1015, "data": {"values": []}, "mark": "text", "encoding": {}},
    {"width": 175, "height": 217, "view": {"fill": "#8c8c8c", "stroke": null}, "data": {"name": "tab"},
     "mark": {"type": "text", "font": "Liberation Serif", "fontWeight": "bold", "fontSize": 120, "color": "white", "baseline": "middle", "dx": -8},
     "encoding": {"text": {"field": "label", "type": "nominal"}}}
   ]
  }
 ]
}
